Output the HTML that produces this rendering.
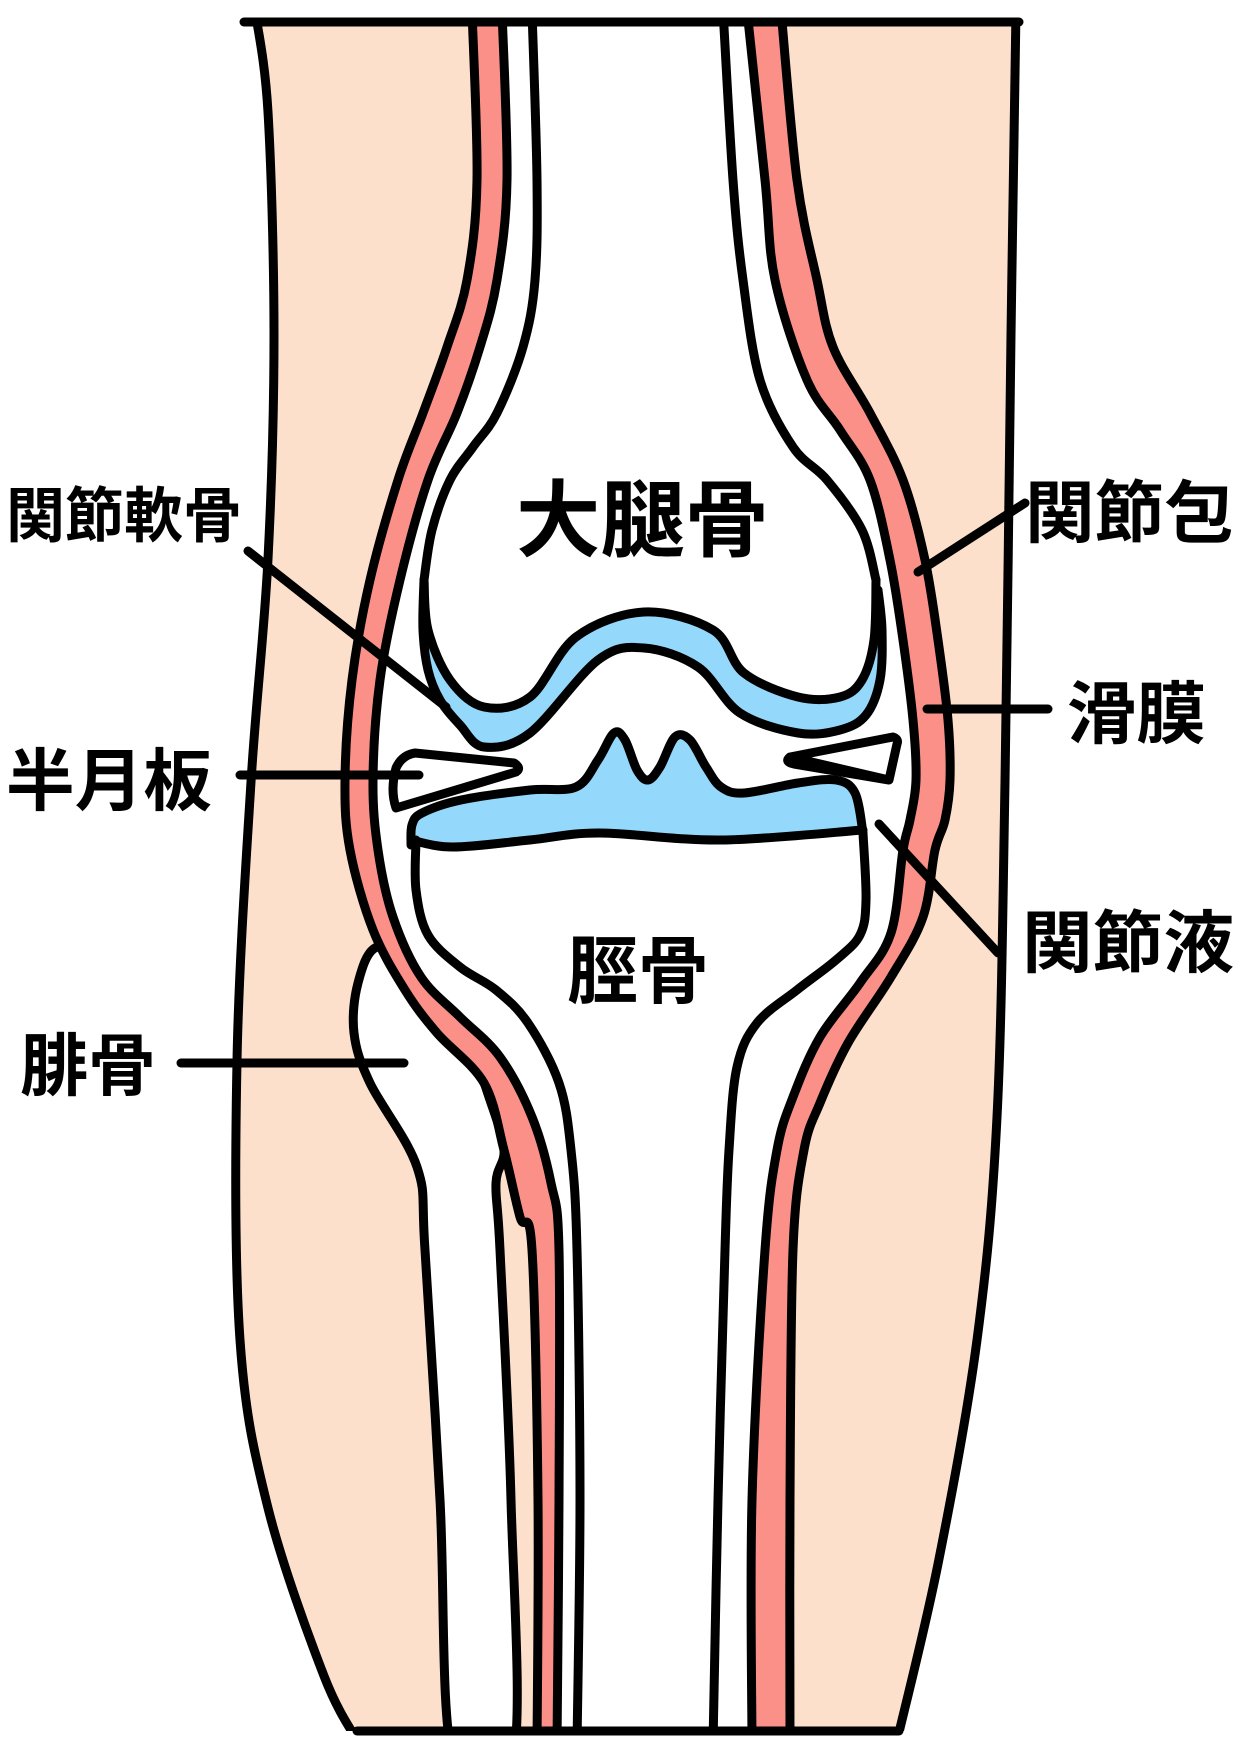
<!DOCTYPE html>
<html><head><meta charset="utf-8"><style>
html,body{margin:0;padding:0;background:#fff;}
svg{display:block;}
text{font-family:"Liberation Sans","Noto Sans CJK JP",sans-serif;font-weight:bold;fill:#000;}
</style></head><body>
<svg id="s" width="1240" height="1754" viewBox="0 0 1240 1754" xmlns="http://www.w3.org/2000/svg">
<defs><clipPath id="cp"><rect x="0" y="22" width="1240" height="1709"/></clipPath></defs>
<g id="g" clip-path="url(#cp)" stroke="#000" stroke-width="9" stroke-linejoin="round" stroke-linecap="round"></g>
<g stroke="#000" stroke-width="9" stroke-linecap="round">
<line x1="244" y1="22" x2="1019" y2="22"/>
<line x1="357" y1="1731" x2="899" y2="1731"/>
<line x1="248" y1="551" x2="446" y2="707"/>
<line x1="240" y1="775" x2="419" y2="775"/>
<line x1="181" y1="1063" x2="404" y2="1063"/>
<line x1="918" y1="572" x2="1025" y2="503"/>
<line x1="927" y1="709" x2="1048" y2="709"/>
<line x1="879" y1="824" x2="998" y2="953"/>
</g>
<text x="6" y="537" font-size="60" textLength="236" lengthAdjust="spacingAndGlyphs">関節軟骨</text>
<text x="6" y="805" font-size="68" textLength="206" lengthAdjust="spacingAndGlyphs">半月板</text>
<text x="20" y="1090" font-size="68" textLength="136" lengthAdjust="spacingAndGlyphs">腓骨</text>
<text x="1025" y="537" font-size="68" textLength="209" lengthAdjust="spacingAndGlyphs">関節包</text>
<text x="1067" y="738" font-size="68" textLength="139" lengthAdjust="spacingAndGlyphs">滑膜</text>
<text x="1022" y="967" font-size="68" textLength="212" lengthAdjust="spacingAndGlyphs">関節液</text>
<text x="516" y="550" font-size="84" textLength="253" lengthAdjust="spacingAndGlyphs">大腿骨</text>
<text x="567" y="997" font-size="74" textLength="142" lengthAdjust="spacingAndGlyphs">脛骨</text>
</svg>
<script>
function cr(p,closed){
  var n=p.length,d="M"+p[0][0]+","+p[0][1];
  for(var i=0;i<n-(closed?0:1);i++){
    var p0=p[(i-1+n)%n],p1=p[i],p2=p[(i+1)%n],p3=p[(i+2)%n];
    if(!closed){if(i==0)p0=p1;if(i+2>=n)p3=p2;}
    var c1x=p1[0]+(p2[0]-p0[0])/6,c1y=p1[1]+(p2[1]-p0[1])/6;
    var c2x=p2[0]-(p3[0]-p1[0])/6,c2y=p2[1]-(p3[1]-p1[1])/6;
    d+=" C"+c1x.toFixed(1)+","+c1y.toFixed(1)+" "+c2x.toFixed(1)+","+c2y.toFixed(1)+" "+p2[0]+","+p2[1];
  }
  if(closed)d+="Z";
  return d;
}
function rev(a){return a.slice().reverse();}
var g=document.getElementById("g");
function P(d,fill,sw){var e=document.createElementNS("http://www.w3.org/2000/svg","path");e.setAttribute("d",d);e.setAttribute("fill",fill||"none");if(sw!==undefined)e.setAttribute("stroke-width",sw);g.appendChild(e);return e;}
function L(pts){return cr(pts,false);}
function area(a,b){
  var r=rev(b);return L(a)+" L"+r[0][0]+","+r[0][1]+" "+L(r).slice(1).replace(/^[^C]*/,"")+"Z";
}
var SL=[[255,10],[268,112],[274,335],[268,559],[251,782],[237,1061],[240,1340],[268,1508],[324,1676],[360,1745]];
var SR=[[1016,10],[1011,335],[1005,782],[997,1117],[977,1340],[938,1564],[896,1745]];
var COL=[[472,10],[477,180],[467,280],[447,347],[423,413],[398,480],[370,580],[352,680],[345,780],[350,850],[373,930],[405,990],[437,1033],[484,1083],[504,1150],[520,1217],[532,1250],[538,1500],[537,1745]];
var CIL=[[502,10],[507,180],[497,280],[480,347],[457,413],[428,480],[400,580],[380,680],[373,780],[378,850],[393,917],[421,977],[460,1017],[500,1057],[532,1117],[551,1183],[559,1250],[559,1500],[557,1745]];
var COR=[[781,10],[797,180],[817,280],[833,347],[870,413],[903,480],[925,560],[938,640],[948,720],[950,780],[945,820],[935,850],[923,917],[891,977],[848,1043],[820,1103],[804,1150],[793,1250],[790,1500],[790,1745]];
var CIR=[[747,10],[765,180],[775,280],[807,380],[840,430],[870,480],[890,560],[903,640],[913,720],[916,780],[910,820],[903,850],[891,933],[860,983],[820,1037],[793,1097],[777,1150],[765,1250],[752,1500],[752,1745]];
P(area(SL,SR),"#fde0cc",0);
P(L(SL));P(L(SR));
var FIB=[[470,1050],[420,960],[377,947],[358,983],[354,1033],[370,1083],[417,1167],[425,1250],[440,1500],[453,1760],[513,1760],[511,1500],[500,1250],[496,1183],[504,1150],[490,1100]];
P(cr(FIB,true),"#fff",9);
P(area(COL,COR),"#fa9087",0);
P(area(CIL,CIR),"#fff",0);
P(L(COL));P(L(COR));P(L(CIL));P(L(CIR));
// femur
var FL=[[532,10],[537,180],[535,280],[523,347],[497,413],[473,447],[450,480],[432,530],[424,580]];
var BS=[[424,580],[428,630],[450,680],[484,707],[530,697],[576,637],[644,612],[713,630],[744,673],[798,697],[840,697],[862,680],[874,640],[876,580]];
var FR=[[876,580],[862,530],[827,480],[793,447],[760,380],[743,280],[733,180],[723,10]];
var CS=[[424,580],[423,630],[428,670],[440,700],[460,725],[484,747],[530,733],[598,660],[644,648],[698,667],[740,713],[798,733],[840,730],[866,715],[880,680],[882,630],[878,590]];
var BS2=BS.concat([[878,590]]);
P(area(CS,BS2),"#94d9fb",0);
P(L(FL));P(L(BS));P(L(FR));P(L(CS));
// tibia
var TT=[[411,845],[412,825],[422,813],[461,800],[530,790],[576,787],[598,760],[614,733],[625,740],[637,770],[648,780],[660,767],[675,737],[690,740],[706,767],[721,787],[744,793],[798,783],[836,780],[855,793],[863,833]];
var TB=[[411,840],[453,847],[530,840],[599,833],[721,840],[863,830]];
P(area(TT,TB),"#94d9fb",0);
P(L(TT));P(L(TB));
var TLe=[[416,840],[416,890],[428,935],[460,967],[496,990],[528,1023],[559,1083],[571,1150],[577,1250],[580,1500],[577,1745]];
var TRe=[[863,833],[866,900],[860,935],[836,960],[797,990],[757,1023],[737,1067],[729,1150],[725,1250],[718,1500],[713,1745]];
P(L(TLe));P(L(TRe));
P("M415,753 L514,763 Q522,768 516,772 L396,808 Q390,790 396,768 Q402,755 415,753Z","#fff");
P("M790,757 L893,737 Q899,739 897,744 L889,780 Z M790,757 Q784,762 794,764 L889,780","#fff");
</script>
</body></html>
